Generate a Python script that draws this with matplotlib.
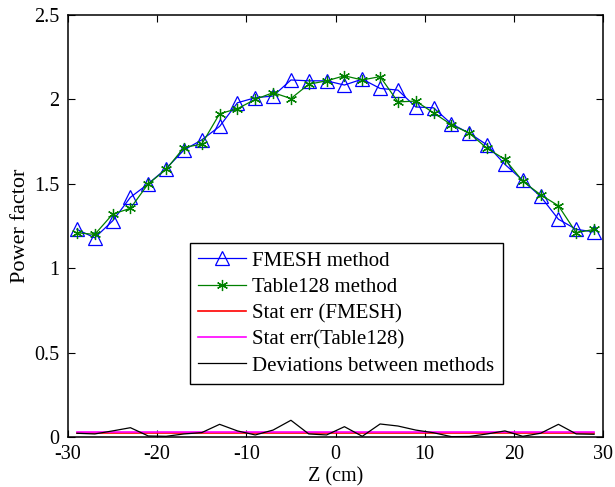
import numpy as np
import matplotlib
matplotlib.use('Agg')
import matplotlib.pyplot as plt

# ---- data --------------------------------------------------------------------
z_cm = [-29, -27, -25, -23, -21, -19, -17, -15, -13, -11, -9, -7, -5, -3, -1,
        1, 3, 5, 7, 9, 11, 13, 15, 17, 19, 21, 23, 25, 27, 29]

fmesh = [1.23, 1.18, 1.28, 1.42, 1.50, 1.59, 1.70, 1.76, 1.84, 1.98, 2.01, 2.02,
         2.115, 2.11, 2.11, 2.085, 2.12, 2.065, 2.055, 1.955, 1.95, 1.855, 1.80,
         1.73, 1.615, 1.52, 1.425, 1.29, 1.23, 1.215]

table128 = [1.21, 1.20, 1.32, 1.355, 1.50, 1.585, 1.715, 1.735, 1.915, 1.945,
            2.00, 2.04, 2.005, 2.09, 2.11, 2.14, 2.115, 2.135, 1.985, 1.99, 1.92,
            1.85, 1.80, 1.71, 1.645, 1.515, 1.435, 1.37, 1.21, 1.23]

stat_err_fmesh = [0.022, 0.022, 0.022, 0.022, 0.022, 0.022, 0.022, 0.022, 0.022,
                  0.022, 0.022, 0.022, 0.022, 0.022, 0.022, 0.022, 0.022, 0.022,
                  0.022, 0.022, 0.022, 0.022, 0.022, 0.022, 0.022, 0.022, 0.022,
                  0.022, 0.022, 0.022]

stat_err_table = [0.030, 0.030, 0.030, 0.030, 0.030, 0.030, 0.030, 0.030, 0.030,
                  0.030, 0.030, 0.030, 0.030, 0.030, 0.030, 0.030, 0.030, 0.030,
                  0.030, 0.030, 0.030, 0.030, 0.030, 0.030, 0.030, 0.030, 0.030,
                  0.030, 0.030, 0.030]

deviation = [0.022, 0.018, 0.036, 0.055, 0.006, 0.004, 0.018, 0.026, 0.075, 0.036,
             0.012, 0.041, 0.099, 0.018, 0.012, 0.061, 0.004, 0.077, 0.065, 0.041,
             0.025, 0.002, 0.003, 0.018, 0.036, 0.004, 0.022, 0.075, 0.018, 0.016]

# ---- style -------------------------------------------------------------------
plt.rcParams['font.family'] = ['Liberation Serif', 'DejaVu Serif']
plt.rcParams['axes.unicode_minus'] = False

fig = plt.figure(figsize=(6.15, 4.87), dpi=100)
ax = fig.add_axes([0.1106, 0.1027, 0.8699, 0.8665])

star = (6, 2, 0)  # asterisk, like MATLAB's '*'
ax.plot(z_cm, fmesh, color='blue', lw=0.9, marker='^', ms=10,
        mfc='none', mec='blue', mew=0.9, label='FMESH method')
ax.plot(z_cm, table128, color='green', lw=0.9, marker=star, ms=8,
        mec='green', mew=0.9, label='Table128 method')
ax.plot(z_cm, stat_err_fmesh, color='red', lw=1.2, label='Stat err (FMESH)')
ax.plot(z_cm, stat_err_table, color='magenta', lw=1.2, label='Stat err(Table128)')
ax.plot(z_cm, deviation, color='black', lw=0.9, label='Deviations between methods')

ax.set_xlim(-30, 30)
ax.set_ylim(0, 2.5)
ax.set_xticks(np.arange(-30, 31, 10))
ax.set_yticks([0, 0.5, 1, 1.5, 2, 2.5])
ax.set_yticklabels(['0', '0.5', '1', '1.5', '2', '2.5'])
ax.tick_params(direction='in', top=True, right=True, length=5, width=0.8,
               labelsize=14.5)
ax.tick_params(axis='x', pad=6)
ax.tick_params(axis='y', pad=6)
for s in ax.spines.values():
    s.set_linewidth(1.1)

ax.set_xlabel('Z (cm)', fontsize=14.5, labelpad=2)
ax.set_ylabel('Power factor', fontsize=16, labelpad=3)

leg = ax.legend(loc='upper left', bbox_to_anchor=(0.228, 0.46), fontsize=15,
                fancybox=False, framealpha=1, edgecolor='black',
                borderaxespad=0, handlelength=2.3, handletextpad=0.3,
                labelspacing=0.32, borderpad=0.4)
leg.get_frame().set_linewidth(1.0)

fig.savefig('out.png', dpi=100)
